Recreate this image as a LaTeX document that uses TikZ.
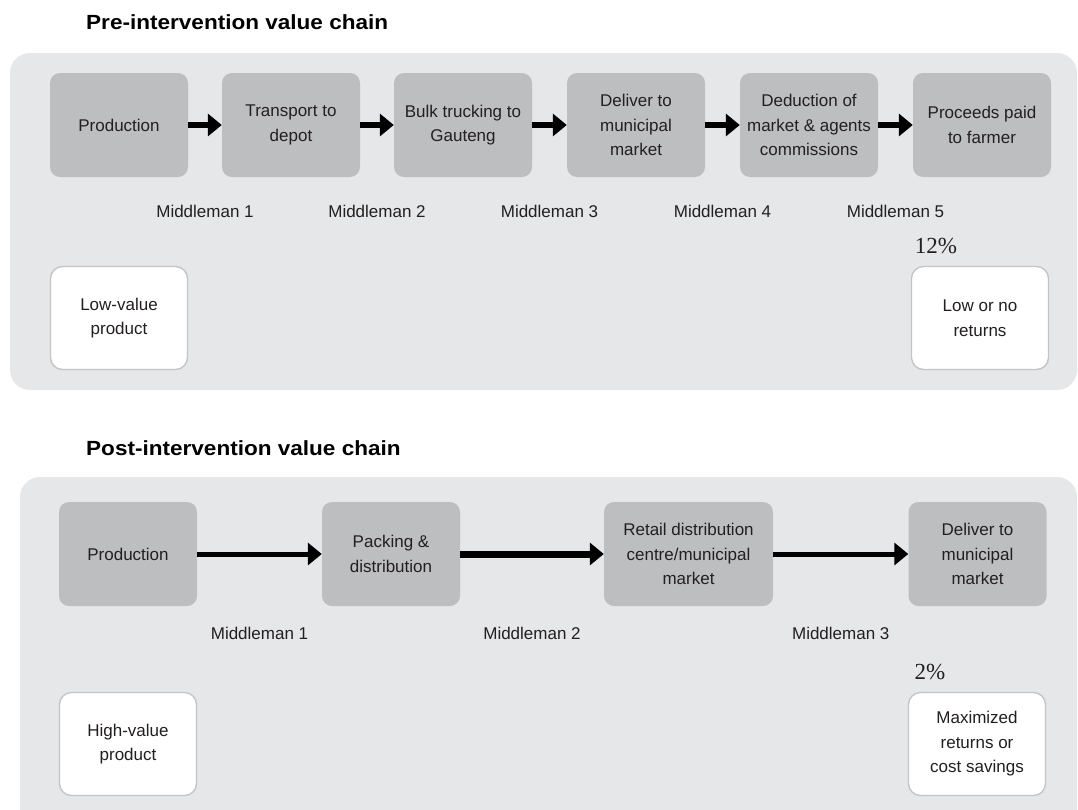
\documentclass[tikz,border=0pt]{standalone}
\usepackage{fontspec}
\setmainfont{Liberation Sans}
\newfontfamily\pctfont{Liberation Serif}
\usetikzlibrary{arrows.meta,calc}
\definecolor{panelgray}{HTML}{E6E7E9}
\definecolor{stepgray}{HTML}{BDBEC0}
\definecolor{edgegray}{HTML}{C4C5C7}
\definecolor{ink}{HTML}{231F20}
\begin{document}
\begin{tikzpicture}[x=1pt,y=-1pt,
  panel/.style={fill=panelgray, rounded corners=20pt},
  boxtext/.style={align=center, text=ink, inner sep=0pt,
    font=\fontsize{17}{24.5}\selectfont},
  stepbox/.style={boxtext, fill=stepgray, rounded corners=10pt,
    minimum width=138pt, minimum height=104pt},
  endbox/.style={boxtext, fill=white, draw=edgegray, line width=1.4pt,
    rounded corners=12pt, minimum width=137pt, minimum height=103pt},
  midlabel/.style={text=ink, inner sep=0pt, font=\fontsize{17}{20}\selectfont},
  pct/.style={text=ink, inner sep=0pt, font=\pctfont\fontsize{23}{26}\selectfont},
  heading/.style={anchor=base west, inner sep=0pt, text=black,
    font=\bfseries\fontsize{20.5}{24}\selectfont},
  chainarrow/.style={line width=6pt, -{Triangle[length=14pt,width=22pt]}},
  longarrow/.style={line width=5pt, -{Triangle[length=14pt,width=22pt]}},
  widearrow/.style={line width=7pt, -{Triangle[length=14pt,width=22pt]}}
]
\clip (0,0) rectangle (1078,809);
\useasboundingbox (0,0) rectangle (1078,809);

% ---------- pre-intervention chain ----------
\node[heading] (t1) at (86,29.5) {\scalebox{1.1}[1]{Pre-intervention value chain}};
\fill[panel] (10,53) rectangle (1077,390);

\node[stepbox] (a1) at (119,125) {Production};
\node[stepbox] (a2) at (291,125) {Transport to\\depot};
\node[stepbox] (a3) at (463,125) {Bulk trucking to\\Gauteng};
\node[stepbox] (a4) at (636,125) {Deliver to\\municipal\\market};
\node[stepbox] (a5) at (809,125) {Deduction of\\market \& agents\\commissions};
\node[stepbox] (a6) at (982,125) {Proceeds paid\\to farmer};

\foreach \u/\v in {a1/a2,a2/a3,a3/a4,a4/a5,a5/a6}
  \draw[chainarrow] (\u.east) -- (\v.west);

\foreach \u/\v/\n in {a1/a2/1,a2/a3/2,a3/a4/3,a4/a5/4,a5/a6/5}
  \node[midlabel] (am\n) at ($(\u.east)!.5!(\v.west)+(0,86)$) {Middleman \n};

\node[endbox] (alow) at (119,318) {Low-value\\product};
\node[endbox] (aret) at (980,318) {Low or no\\returns};
\node[pct] (apct) at (936,246) {12\%};

% ---------- post-intervention chain ----------
\node[heading] (t2) at (86,455) {\scalebox{1.1}[1]{Post-intervention value chain}};
\fill[panel] (20,477) rectangle (1077,830);

\node[stepbox] (b1) at (128,554) {Production};
\node[stepbox] (b2) at (391,554) {Packing \&\\distribution};
\node[stepbox, minimum width=169pt] (b3) at (688.5,554) {Retail distribution\\centre/municipal\\market};
\node[stepbox] (b4) at (977.5,554) {Deliver to\\municipal\\market};

\draw[longarrow] (b1.east) -- (b2.west);
\draw[widearrow] (b2.east) -- (b3.west);
\draw[longarrow] (b3.east) -- (b4.west);

\foreach \u/\v/\n in {b1/b2/1,b2/b3/2,b3/b4/3}
  \node[midlabel] (bm\n) at ($(\u.east)!.5!(\v.west)+(0,79)$) {Middleman \n};

\node[endbox] (bhigh) at (128,744) {High-value\\product};
\node[endbox] (bret) at (977,744) {Maximized\\returns or\\cost savings};
\node[pct] (bpct) at (930,672) {2\%};
\end{tikzpicture}
\end{document}
